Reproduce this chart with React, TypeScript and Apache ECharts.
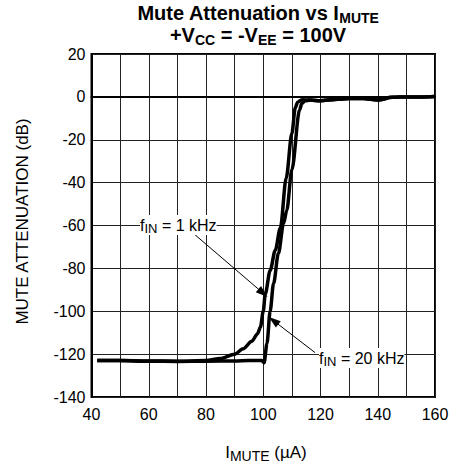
import React, { useEffect, useRef } from "react";
import * as echarts from "echarts";

const FONT = "'Liberation Sans', Arial, Helvetica, sans-serif";

const xTicks = [40, 60, 80, 100, 120, 140, 160];

const x1k = [42, 50, 60, 70, 80, 85, 90, 93, 96, 98, 99, 100, 100.7, 102.4, 104.2, 106, 108, 110, 111.2, 112, 113.5, 116.4, 120, 125, 130, 135, 140, 145, 150, 155, 160];
const y1k = [-123, -123, -123.2, -123.3, -123, -122, -120, -117.5, -114, -110.5, -107.5, -100, -92, -81, -71.5, -61, -38, -17, -5, -2.5, -1.3, -1.5, -1.8, -1.2, -0.8, -0.8, -1.5, -0.2, 0, 0, 0.2];

const x20k = [42, 50, 60, 70, 80, 90, 95, 99.5, 100.3, 101.3, 102.4, 103.6, 105.3, 107.1, 108.2, 110, 112.7, 113.5, 114.6, 116.4, 120, 125, 130, 135, 140, 145, 150, 155, 160];
const y20k = [-123, -123, -123.3, -123.4, -123.3, -123.2, -123, -123, -124, -115, -100, -87, -73, -59, -53, -34, -6, -3, -1.8, -1.5, -1.8, -1.2, -0.8, -0.8, -1.5, -0.2, 0, 0, 0.2];

// annotation arrows: [startX, startY, tipX, tipY]
const arrow1k = [75, -63, 99.9, -91.5];
const arrow20k = [118.1, -119.3, 103.6, -104.4];

const zip = (xs: number[], ys: number[]) => xs.map((x, i) => [x, ys[i]]);

export default function App() {
  const ref = useRef<HTMLDivElement>(null);
  useEffect(() => {
    if (!ref.current) return;
    const chart = echarts.init(ref.current, undefined, { renderer: "svg" });
    const subRich = (size: number, bold: boolean, pad: number, lh?: number) => ({
      fontSize: size,
      fontWeight: bold ? "bold" : "normal",
      fontFamily: FONT,
      color: "#000",
      padding: [pad, 0, 0, 0],
      ...(lh ? { lineHeight: lh } : {}),
    });
    const mainRich = (size: number, bold: boolean, lh?: number) => ({
      fontSize: size,
      fontWeight: bold ? "bold" : "normal",
      fontFamily: FONT,
      color: "#000",
      ...(lh ? { lineHeight: lh } : {}),
    });
    const arrowLine = (a: number[]) => [
      { coord: [a[0], a[1]], symbol: "none" },
      { coord: [a[2], a[3]], symbol: "triangle" },
    ];
    chart.setOption({
      animation: false,
      backgroundColor: "#fff",
      grid: {
        left: 91.5,
        right: 19,
        top: 54,
        bottom: 67,
        show: true,
        borderColor: "#000",
        borderWidth: 2,
        backgroundColor: "transparent",
      },
      xAxis: {
        type: "value",
        min: 40,
        max: 160,
        interval: 10,
        axisLine: { show: true, lineStyle: { color: "#000", width: 2 } },
        axisTick: { show: false },
        splitLine: { show: true, lineStyle: { color: "#222", width: 1 } },
        axisLabel: {
          fontSize: 16,
          fontFamily: FONT,
          color: "#000",
          margin: 9,
          formatter: (v: number) => (xTicks.includes(v) ? String(v) : ""),
        },
      },
      yAxis: {
        type: "value",
        min: -140,
        max: 20,
        interval: 20,
        axisLine: { show: true, lineStyle: { color: "#000", width: 2 } },
        axisTick: { show: false },
        splitLine: { show: true, lineStyle: { color: "#222", width: 1 } },
        axisLabel: { fontSize: 16, fontFamily: FONT, color: "#000", margin: 6 },
      },
      series: [
        {
          name: "fIN = 1 kHz",
          type: "line",
          data: zip(x1k, y1k),
          showSymbol: false,
          smooth: 0.3,
          smoothMonotone: "x",
          lineStyle: { color: "#000", width: 3.5 },
          z: 5,
        },
        {
          name: "fIN = 20 kHz",
          type: "line",
          data: zip(x20k, y20k),
          showSymbol: false,
          smooth: 0.3,
          smoothMonotone: "x",
          lineStyle: { color: "#000", width: 3.5 },
          z: 5,
          markLine: {
            silent: true,
            symbolSize: [8, 12],
            label: { show: false },
            lineStyle: { color: "#000", width: 1, type: "solid" },
            emphasis: { disabled: true },
            data: [arrowLine(arrow1k), arrowLine(arrow20k)],
          },
        },
      ],
      graphic: [
        {
          type: "text",
          x: 258,
          y: 24,
          style: {
            text:
              "{a|Mute Attenuation vs I}{s|MUTE}\n{a|+V}{s|CC}{a| = -V}{s|EE}{a| = 100V}",
            align: "center",
            verticalAlign: "middle",
            rich: { a: mainRich(20, true, 22), s: subRich(14, true, 9, 12) },
          },
        },
        {
          type: "text",
          x: 266,
          y: 452,
          style: {
            text: "{a|I}{s|MUTE}{a| (µA)}",
            align: "center",
            verticalAlign: "middle",
            rich: { a: mainRich(17, false), s: subRich(14, false, 8) },
          },
        },
        {
          type: "text",
          x: 22,
          y: 221.5,
          rotation: Math.PI / 2,
          style: {
            text: "MUTE ATTENUATION (dB)",
            align: "center",
            verticalAlign: "middle",
            fontSize: 17,
            fontFamily: FONT,
            fill: "#000",
          },
        },
        {
          type: "text",
          x: 140,
          y: 225,
          z: 100,
          style: {
            text: "{a|f}{s|IN}{a| = 1 kHz}",
            align: "left",
            verticalAlign: "middle",
            backgroundColor: "#fff",
            rich: { a: mainRich(16, false), s: subRich(13, false, 7) },
          },
        },
        {
          type: "text",
          x: 319,
          y: 358,
          z: 100,
          style: {
            text: "{a|f}{s|IN}{a| = 20 kHz}",
            align: "left",
            verticalAlign: "middle",
            backgroundColor: "#fff",
            rich: { a: mainRich(16, false), s: subRich(13, false, 7) },
          },
        },
      ],
    });
    return () => chart.dispose();
  }, []);
  return (
    <div
      ref={ref}
      style={{ position: "absolute", left: 0, top: 0, width: 454, height: 464 }}
    />
  );
}
